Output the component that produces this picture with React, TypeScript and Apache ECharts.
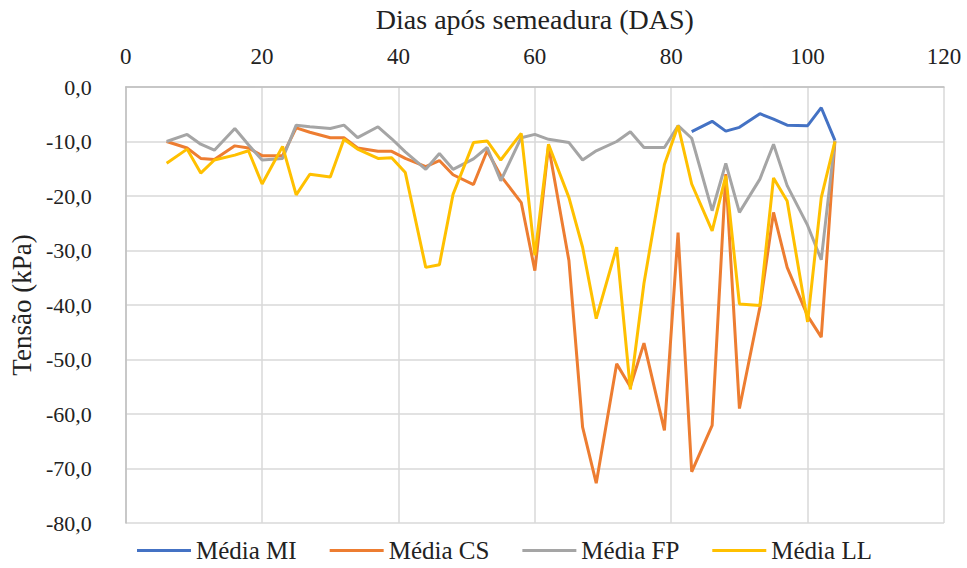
import React, { useEffect, useRef } from "react";
import * as echarts from "echarts";

const days = [6, 9, 11, 13, 16, 18, 20, 23, 25, 27, 30, 32, 34, 37, 39, 41, 44, 46, 48, 51, 53, 55, 58, 60, 62, 65, 67, 69, 72, 74, 76, 79, 81, 83, 86, 88, 90, 93, 95, 97, 100, 102, 104];

const mediaMI = [
  null, null, null, null, null, null, null, null, null, null,
  null, null, null, null, null, null, null, null, null, null,
  null, null, null, null, null, null, null, null, null, null,
  null, null, null,
  -8.2, -6.3, -8.1, -7.4, -4.9, -5.9, -7.0, -7.1, -3.8, -9.8,
];

const mediaCS = [
  -10.0, -11.2, -13.1, -13.3, -10.8, -11.2, -12.6, -12.6, -7.5, -8.3,
  -9.3, -9.3, -11.2, -11.8, -11.8, -13.1, -14.6, -13.5, -16.1, -17.9,
  -11.7, -16.3, -21.2, -33.7, -10.8, -31.9, -62.4, -72.7, -50.8, -55.0,
  -47.0, -63.0, -26.7, -70.6, -62.1, -16.0, -59.0, -40.4, -23.0, -33.1,
  -42.0, -45.9, -10.0,
];

const mediaFP = [
  -10.0, -8.7, -10.5, -11.6, -7.6, -10.6, -13.4, -13.1, -7.0, -7.3,
  -7.6, -7.0, -9.3, -7.3, -9.5, -11.9, -15.1, -12.2, -15.1, -13.2,
  -11.1, -17.2, -9.3, -8.7, -9.6, -10.2, -13.4, -11.7, -10.0, -8.2,
  -11.1, -11.1, -7.1, -9.4, -22.7, -14.0, -23.0, -16.9, -10.5, -18.1,
  -25.4, -31.7, -9.8,
];

const mediaLL = [
  -14.0, -11.4, -15.8, -13.4, -12.5, -11.7, -17.8, -10.9, -19.8, -16.0,
  -16.5, -9.6, -11.4, -13.1, -13.0, -15.7, -33.1, -32.6, -19.7, -10.2,
  -9.9, -13.4, -8.5, -30.9, -10.5, -20.3, -29.4, -42.5, -29.4, -55.5,
  -36.0, -14.2, -7.1, -17.8, -26.4, -16.3, -39.8, -40.1, -16.7, -20.9,
  -43.1, -20.3, -10.0,
];

const seriesNames = ["Média MI", "Média CS", "Média FP", "Média LL"];
const seriesColors = ["#4472C4", "#ED7D31", "#A5A5A5", "#FFC000"];
const seriesValues = [mediaMI, mediaCS, mediaFP, mediaLL];

const FONT = "Liberation Serif";

export default function App() {
  const ref = useRef<HTMLDivElement>(null);

  useEffect(() => {
    document.body.style.margin = "0";
    if (!ref.current) return;
    const chart = echarts.init(ref.current, null, { renderer: "svg" });
    chart.setOption({
      animation: false,
      backgroundColor: "#ffffff",
      textStyle: { fontFamily: FONT, color: "#222" },
      grid: { left: 122, right: 23, top: 86, bottom: 45 },
      legend: {
        data: seriesNames,
        left: 132,
        top: 533,
        icon: "rect",
        itemWidth: 54,
        itemHeight: 3,
        itemGap: 33,
        textStyle: { fontFamily: FONT, fontSize: 25, color: "#222" },
      },
      xAxis: {
        type: "value",
        position: "top",
        min: 0,
        max: 120,
        interval: 20,
        name: "Dias após semeadura (DAS)",
        nameLocation: "middle",
        nameGap: 54,
        nameTextStyle: { fontFamily: FONT, fontSize: 28, color: "#222" },
        axisLine: { show: true, lineStyle: { color: "#bfbfbf", width: 1.5 } },
        axisTick: { show: false },
        axisLabel: { fontFamily: FONT, fontSize: 23, color: "#222", margin: 19 },
        splitLine: { show: true, lineStyle: { color: "#d9d9d9", width: 1.5 } },
      },
      yAxis: {
        type: "value",
        min: -80,
        max: 0,
        interval: 10,
        name: "Tensão (kPa)",
        nameLocation: "middle",
        nameGap: 88,
        nameTextStyle: { fontFamily: FONT, fontSize: 27, color: "#222" },
        axisLine: { show: true, lineStyle: { color: "#bfbfbf", width: 1.5 } },
        axisTick: { show: false },
        axisLabel: {
          fontFamily: FONT,
          fontSize: 22,
          color: "#222",
          margin: 34,
          formatter: (v: number) => v.toFixed(1).replace(".", ","),
        },
        splitLine: { show: true, lineStyle: { color: "#d9d9d9", width: 1.5 } },
      },
      series: seriesNames.map((name, i) => ({
        name,
        type: "line",
        data: days.map((d, j) => [d, seriesValues[i][j]]),
        showSymbol: false,
        symbol: "none",
        lineStyle: { color: seriesColors[i], width: 3 },
        itemStyle: { color: seriesColors[i] },
      })),
    });
    return () => chart.dispose();
  }, []);

  return <div ref={ref} style={{ width: 967, height: 568 }} />;
}
